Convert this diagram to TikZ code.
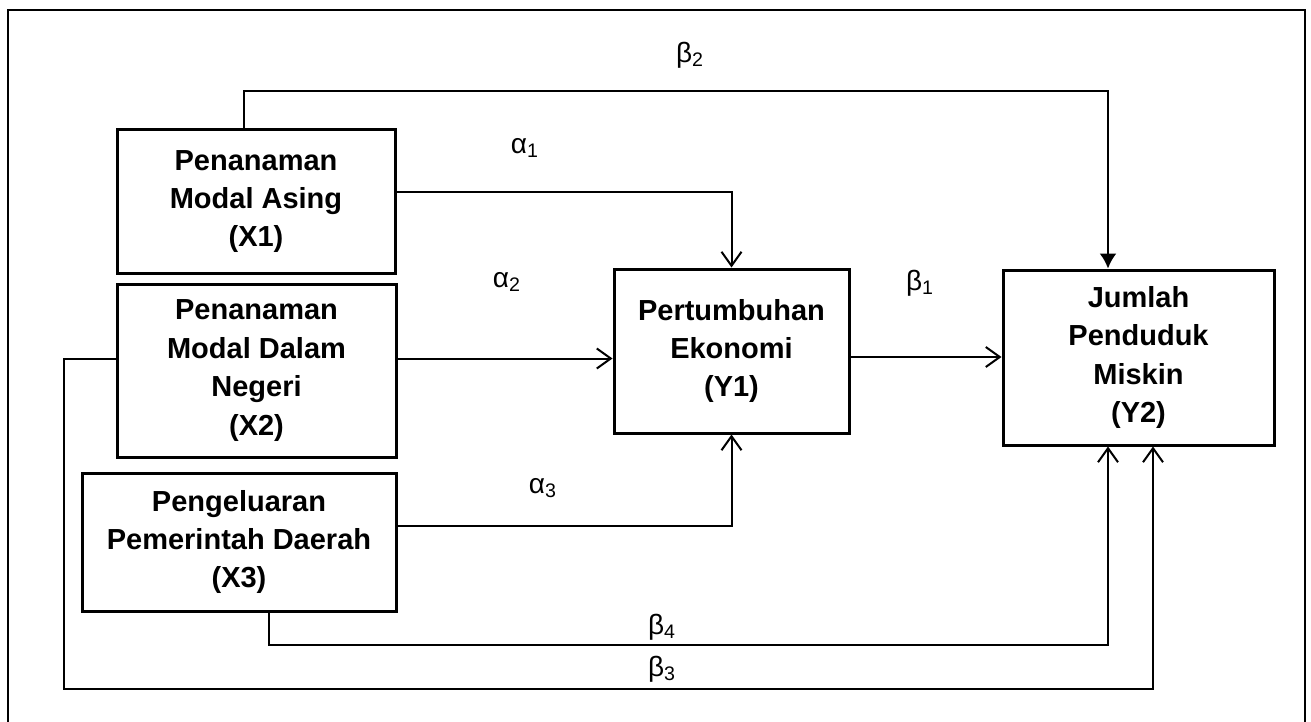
\documentclass[tikz,border=0pt]{standalone}
\usepackage{fontspec}
\setmainfont{Liberation Sans}
\usetikzlibrary{arrows.meta,calc}

\begin{document}
\begin{tikzpicture}[x=0.5pt,y=-0.5pt,
    box/.style={draw,line width=1.5pt,inner sep=0pt,align=center,
      font=\fontsize{14.5}{19.2}\selectfont\bfseries},
    coef/.style={inner sep=0pt,font=\fontsize{14}{16}\selectfont},
    link/.style={line width=1pt,-{Straight Barb[length=7pt,width=10pt,line width=1pt]}}]
    \useasboundingbox (0,0) rectangle (1311,722);

    % Frame
    \draw[line width=1pt] (8,722) -- (8,10) -- (1305,10) -- (1305,722);

    % Variables
    \node[box,minimum width=139pt,minimum height=71.5pt] (x1) at (256,201.5) {Penanaman\\Modal Asing\\(X1)};
    \node[box,minimum width=139.5pt,minimum height=86.5pt] (x2) at (256.5,370.5) {Penanaman\\Modal Dalam\\Negeri\\(X2)};
    \node[box,minimum width=157pt,minimum height=69pt] (x3) at (239,542) {Pengeluaran\\Pemerintah Daerah\\(X3)};
    \node[box,minimum width=117.5pt,minimum height=82pt] (y1) at (731.5,351) {Pertumbuhan\\Ekonomi\\(Y1)};
    \node[box,minimum width=135.5pt,minimum height=87.5pt] (y2) at (1138.5,357.5) {Jumlah\\Penduduk\\Miskin\\(Y2)};

    % Turning points
    \coordinate (b2turn) at (1108,91);
    \coordinate (b3left) at (64,689);
    \coordinate (b3turn) at (1153,689);
    \coordinate (b4turn) at (1108,645);

    % Paths to Y1
    \draw[link] ([yshift=4.75pt]x1.east) -| (y1.north);
    \draw[link] ([yshift=6pt]x2.east) -- ([yshift=6pt]x2.east -| y1.west);
    \draw[link] ([yshift=8pt]x3.east) -| (y1.south);

    % Paths to Y2
    \draw[link] ([yshift=-3pt]y1.east) -- ([yshift=-3pt]y1.east -| y2.west);
    \draw[line width=1pt,-{Latex[length=7.5pt,width=8.5pt]}] ([xshift=-6pt]x1.north) |- (b2turn) -- (b2turn |- y2.north);
    \draw[link] ([yshift=6pt]x2.west) -| (b3left) -- (b3turn) -- (b3turn |- y2.south);
    \draw[link] ([xshift=15pt]x3.south) |- (b4turn) -- (b4turn |- y2.south);

    % Coefficients
    \node[coef] (lb2) at (690,55) {β\textsubscript{2}};
    \node[coef] (la1) at (525,148) {α\textsubscript{1}};
    \node[coef] (la2) at (507,282) {α\textsubscript{2}};
    \node[coef] (la3) at (543,488) {α\textsubscript{3}};
    \node[coef] (lb1) at (920,283) {β\textsubscript{1}};
    \node[coef] (lb4) at (662,627) {β\textsubscript{4}};
    \node[coef] (lb3) at (662,669) {β\textsubscript{3}};

\end{tikzpicture}
\end{document}
